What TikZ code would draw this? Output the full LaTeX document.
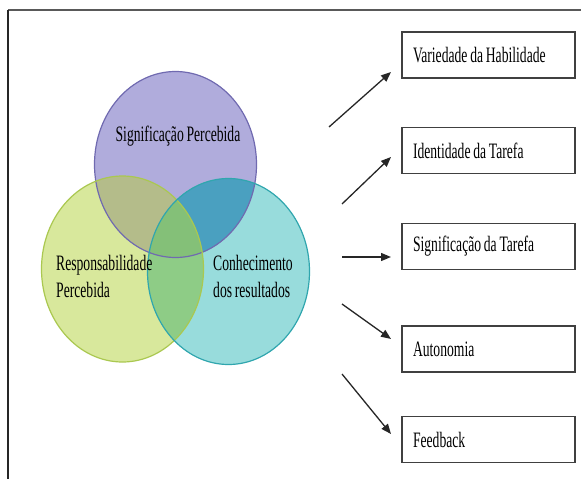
\documentclass[tikz,border=0pt]{standalone}
\usepackage{fontspec}
\setmainfont[FakeStretch=0.62, WordSpace=0.8]{Liberation Serif}
\usetikzlibrary{positioning}
\usetikzlibrary{arrows.meta}
\definecolor{purplefill}{RGB}{176,172,220}
\definecolor{purpleline}{RGB}{112,106,176}
\definecolor{greenfill}{RGB}{216,232,156}
\definecolor{greenline}{RGB}{170,200,80}
\definecolor{tealfill}{RGB}{152,220,220}
\definecolor{tealline}{RGB}{48,166,174}
\definecolor{pgfillc}{RGB}{180,188,138}
\definecolor{ptfillc}{RGB}{74,160,192}
\definecolor{gtfillc}{RGB}{142,204,134}
\definecolor{allfillc}{RGB}{132,192,120}

\begin{document}
\begin{tikzpicture}[x=1pt, y=-1pt,
                vennshape/.style={x radius=81pt, y radius=93pt},
                factorbox/.style={rectangle, draw=black!75, line width=1.6pt, fill=white, minimum width=173pt, minimum height=46pt, text width=151pt, align=flush left, inner xsep=11pt, font=\fontsize{22}{27}\selectfont},
                vennlabel/.style={align=left, inner sep=0pt, font=\fontsize{22}{27}\selectfont},
                outarrow/.style={-{Triangle[length=10pt, width=8pt]}, line width=1.3pt, draw=black!85},
                ]

    \useasboundingbox (0,0) rectangle (581,479);

    % frame
    \draw[line width=2pt, black!65] (8,10) -- (581,10);
    \draw[line width=1.4pt, black!85] (8,10) -- (8,479);

    % venn diagram
    \coordinate (sp) at (175.5,164.5);
    \coordinate (rp) at (122.5,269);
    \coordinate (cr) at (228.5,271.5);

    \fill[purplefill] (sp) ellipse [vennshape];
    \fill[greenfill] (rp) ellipse [vennshape];
    \fill[tealfill] (cr) ellipse [vennshape];
    \begin{scope}
        \clip (sp) ellipse [vennshape];
        \fill[pgfillc] (rp) ellipse [vennshape];
        \fill[ptfillc] (cr) ellipse [vennshape];
    \end{scope}
    \begin{scope}
        \clip (rp) ellipse [vennshape];
        \fill[gtfillc] (cr) ellipse [vennshape];
        \clip (sp) ellipse [vennshape];
        \fill[allfillc] (cr) ellipse [vennshape];
    \end{scope}
    \draw[purpleline, line width=1.2pt] (sp) ellipse [vennshape];
    \draw[greenline, line width=1.2pt] (rp) ellipse [vennshape];
    \draw[tealline, line width=1.2pt] (cr) ellipse [vennshape];

    \node[vennlabel] (splabel) at (178,136) {Significação Percebida};
    \node[vennlabel, anchor=west] (rplabel) at (56,276) {Responsabilidade\\Percebida};
    \node[vennlabel, anchor=west] (crlabel) at (213,276) {Conhecimento\\dos resultados};

    % job characteristics
    \node[factorbox] (var) at (488.5,55) {Variedade da Habilidade};
    \node[factorbox] (ident) at (488.5,150.5) {Identidade da Tarefa};
    \node[factorbox] (signif) at (488.5,246.5) {Significação da Tarefa};
    \node[factorbox] (auton) at (488.5,349) {Autonomia};
    \node[factorbox] (feed) at (488.5,439.5) {Feedback};

    \coordinate (a1) at (329,127);
    \coordinate (b1) at (391,72);
    \coordinate (a2) at (342,204);
    \coordinate (b2) at (391,157);
    \coordinate (a3) at (342,257);
    \coordinate (b3) at (391,257);
    \coordinate (a4) at (342,304);
    \coordinate (b4) at (391,339);
    \coordinate (a5) at (342,374);
    \coordinate (b5) at (391,434);

    \draw[outarrow] (a1) -- (b1);
    \draw[outarrow] (a2) -- (b2);
    \draw[outarrow] (a3) -- (b3);
    \draw[outarrow] (a4) -- (b4);
    \draw[outarrow] (a5) -- (b5);
\end{tikzpicture}
\end{document}
